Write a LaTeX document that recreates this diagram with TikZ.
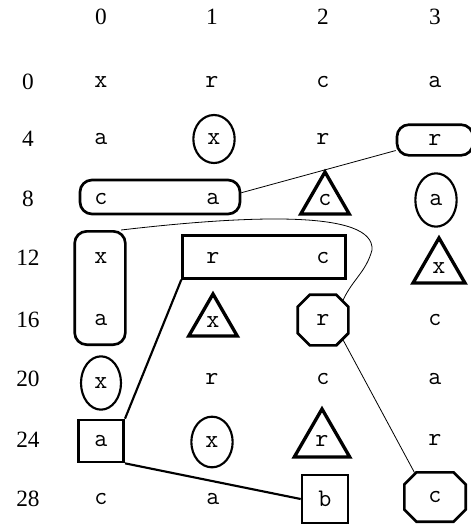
\documentclass[tikz,border=0pt]{standalone}
\usepackage{fontspec}
\setmainfont{Liberation Serif}
\usetikzlibrary{shapes.geometric,shapes.misc}

\tikzset{
	cell/.style={font=\fontsize{19}{19}\selectfont\ttfamily, inner sep=0pt},
	idx/.style={font=\fontsize{17.5}{17.5}\selectfont, inner sep=0pt},
	oval/.style={cell, ellipse, draw, line width=1.6pt, minimum width=31pt, minimum height=38pt},
	tri/.style={cell, regular polygon, regular polygon sides=3, draw, line width=2.5pt},
	pill/.style={draw, line width=2pt, rounded corners=9pt, inner sep=0pt},
	octo/.style={cell, chamfered rectangle, chamfered rectangle xsep=7pt, chamfered rectangle ysep=7pt, draw, line width=2pt},
	box/.style={draw, line width=2pt, inner sep=0pt},
	thinlink/.style={line width=0.6pt},
	thicklink/.style={line width=1.6pt}
}

\begin{document}
\begin{tikzpicture}[x=0.75pt,y=-0.75pt]
	\useasboundingbox (0,0) rectangle (471,525);

	% column and row numbers
	\node[idx] (h0) at (101,17) {0};
	\node[idx] (h1) at (212,17) {1};
	\node[idx] (h2) at (323,17) {2};
	\node[idx] (h3) at (435,17) {3};
	\node[idx] (l0) at (28,82) {0};
	\node[idx] (l4) at (28,139) {4};
	\node[idx] (l8) at (28,199) {8};
	\node[idx] (l12) at (28,258) {12};
	\node[idx] (l16) at (28,320) {16};
	\node[idx] (l20) at (28,379) {20};
	\node[idx] (l24) at (28,440) {24};
	\node[idx] (l28) at (28,499) {28};

	% row 0
	\node[cell] (n0c0) at (101,82) {x};
	\node[cell] (n0c1) at (212,82) {r};
	\node[cell] (n0c2) at (323,82) {c};
	\node[cell] (n0c3) at (435,82) {a};

	% row 4
	\node[cell] (n4c0) at (101,139) {a};
	\node[oval, minimum height=36pt] (n4c1) at (214,139) {x};
	\node[cell] (n4c2) at (323,139) {r};
	\node[cell, pill, minimum width=57pt, minimum height=23pt] (n4c3) at (435,140) {r};

	% row 8
	\node[pill, minimum width=120pt, minimum height=25.5pt] (pill8) at (160,197) {};
	\node[cell] (n8c0) at (101,199) {c};
	\node[cell] (n8c1) at (213,199) {a};
	\node[tri, minimum size=42pt] (n8c2) at (325,200) {c};
	\node[oval, minimum height=40pt] (n8c3) at (436,200) {a};

	% row 12
	\node[pill, minimum width=38pt, minimum height=85pt] (pill12) at (100,288) {};
	\node[box, minimum width=122pt, minimum height=32pt] (rect12) at (264,257) {};
	\node[cell] (n12c0) at (101,258) {x};
	\node[cell] (n12c1) at (213,258) {r};
	\node[cell] (n12c2) at (323,258) {c};
	\node[tri, minimum size=45pt] (n12c3) at (439,268) {x};

	% row 16
	\node[cell] (n16c0) at (101,320) {a};
	\node[tri, minimum size=42pt] (n16c1) at (213,322) {x};
	\node[octo, minimum width=38pt, minimum height=38pt] (n16c2) at (323,320) {r};
	\node[cell] (n16c3) at (435,320) {c};

	% row 20
	\node[oval, minimum width=30pt, minimum height=40pt] (n20c0) at (101,383) {x};
	\node[cell] (n20c1) at (212,379) {r};
	\node[cell] (n20c2) at (323,379) {c};
	\node[cell] (n20c3) at (435,379) {a};

	% row 24
	\node[cell, box, minimum width=34pt, minimum height=31.5pt] (n24c0) at (101,441) {a};
	\node[oval] (n24c1) at (212,442) {x};
	\node[tri, minimum size=48pt] (n24c2) at (322,441) {r};
	\node[cell] (n24c3) at (435,440) {r};

	% row 28
	\node[cell] (n28c0) at (101,499) {c};
	\node[cell] (n28c1) at (213,499) {a};
	\node[cell, box, minimum width=34.5pt, minimum height=36pt] (n28c2) at (325,499) {b};
	\node[octo, minimum width=46pt, minimum height=37pt] (n28c3) at (435,497) {c};

	% links
	\draw[thinlink] (n4c3.195) -- (pill8.3);
	\draw[thinlink] (pill12.70) .. controls (250,215) and (375,210) .. (372,250) to[out=-105,in=65] (n16c2.45);
	\draw[thicklink] (rect12.south west) -- (n24c0.north east);
	\draw[thicklink] (n24c0.south east) -- (n28c2.west);
	\draw[thinlink] (n16c2.-45) -- (n28c3.130);
\end{tikzpicture}
\end{document}
